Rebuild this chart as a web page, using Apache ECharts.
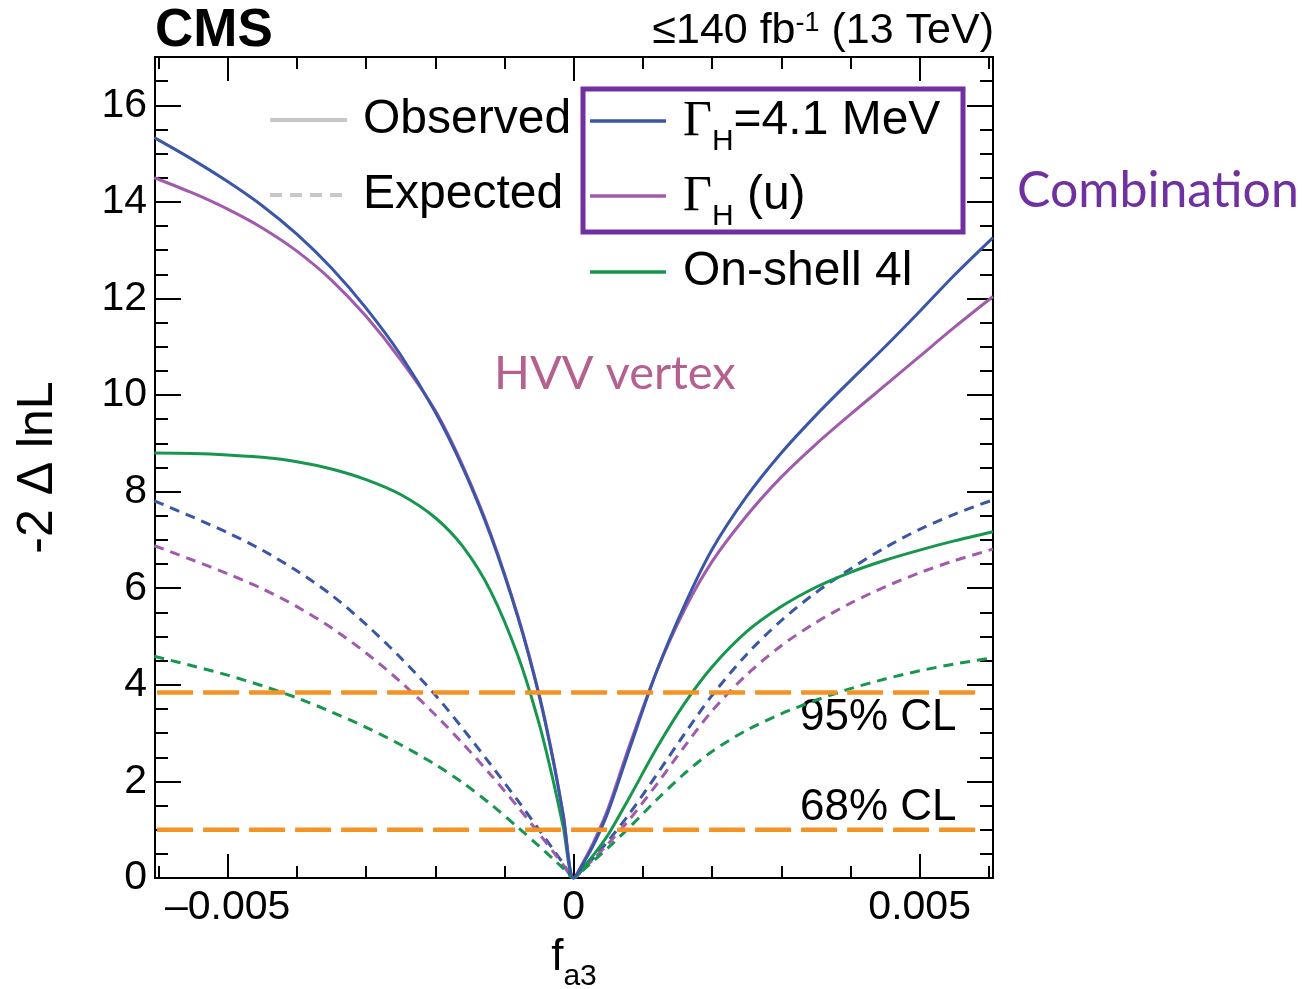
<!DOCTYPE html>
<html>
<head>
<meta charset="utf-8">
<script src="https://cdn.jsdelivr.net/npm/echarts@6/dist/echarts.min.js"></script>
<style>
  html, body { margin: 0; padding: 0; background: #ffffff; }
  #chart { width: 1314px; height: 989px; }
</style>
</head>
<body>
<div id="chart"></div>
<script>
// f_a3 scan points (shared by all curves)
const fGrid = [-0.00606, -0.0055, -0.005, -0.0045, -0.004, -0.0035, -0.003, -0.0025, -0.002, -0.0016,
  -0.0012, -0.0008, -0.0005, -0.0003, -0.00015, 0, 0.00015, 0.0003, 0.0005, 0.0008,
  0.0012, 0.0016, 0.002, 0.0025, 0.003, 0.0035, 0.004, 0.0045, 0.005, 0.0055, 0.00606];

// Observed -2 Delta lnL
const obsWidth41 = [15.33, 14.87, 14.42, 13.92, 13.33, 12.63, 11.80, 10.83, 9.65, 8.49,
  7.09, 5.37, 3.78, 2.46, 1.29, 0, 0.33, 0.72, 1.38, 2.64,
  4.28, 5.64, 6.80, 7.90, 8.80, 9.58, 10.30, 11.00, 11.73, 12.48, 13.26];
const obsWidthFree = [14.50, 14.18, 13.85, 13.46, 12.98, 12.38, 11.63, 10.73, 9.68, 8.53,
  7.13, 5.40, 3.81, 2.49, 1.31, 0, 0.36, 0.78, 1.45, 2.72,
  4.28, 5.55, 6.55, 7.50, 8.30, 8.98, 9.60, 10.20, 10.80, 11.40, 12.04];
const obsOnShell = [8.80, 8.79, 8.76, 8.71, 8.62, 8.47, 8.25, 7.94, 7.46, 6.86,
  5.94, 4.58, 3.20, 2.04, 1.05, 0, 0.24, 0.50, 0.90, 1.65,
  2.69, 3.61, 4.37, 5.10, 5.62, 6.02, 6.33, 6.58, 6.79, 6.98, 7.17];

// Expected -2 Delta lnL
const expWidth41 = [7.81, 7.47, 7.15, 6.79, 6.36, 5.86, 5.25, 4.56, 3.79, 3.09,
  2.35, 1.59, 1.00, 0.60, 0.30, 0, 0.21, 0.44, 0.77, 1.32,
  2.14, 2.98, 3.78, 4.63, 5.33, 5.91, 6.40, 6.84, 7.22, 7.53, 7.83];
const expWidthFree = [6.88, 6.58, 6.30, 5.99, 5.62, 5.18, 4.66, 4.06, 3.38, 2.78,
  2.14, 1.46, 0.92, 0.55, 0.27, 0, 0.20, 0.41, 0.71, 1.20,
  1.94, 2.72, 3.46, 4.21, 4.81, 5.29, 5.69, 6.03, 6.32, 6.57, 6.81];
const expOnShell = [4.59, 4.39, 4.20, 3.98, 3.73, 3.44, 3.12, 2.76, 2.35, 1.97,
  1.53, 1.04, 0.66, 0.40, 0.20, 0, 0.18, 0.37, 0.63, 1.04,
  1.62, 2.16, 2.62, 3.06, 3.40, 3.68, 3.92, 4.12, 4.29, 4.43, 4.56];

// Confidence-level thresholds and the span of their reference lines
const clLevels = [1.0, 3.84];
const clSpan = [-0.00602, 0.00593];

// Axis ticks and labels
const xMajorTicks = [-0.005, 0, 0.005];
const xTickLabels = ['\u20130.005', '0', '0.005'];
const xMinorTicks = [-0.006, -0.004, -0.003, -0.002, -0.001, 0.001, 0.002, 0.003, 0.004, 0.006];
const yMajorTicks = [0, 2, 4, 6, 8, 10, 12, 14, 16];
const yMinorTicks = [0.5, 1, 1.5, 2.5, 3, 3.5, 4.5, 5, 5.5, 6.5, 7, 7.5, 8.5, 9, 9.5, 10.5, 11, 11.5,
  12.5, 13, 13.5, 14.5, 15, 15.5, 16.5];

const BLUE = '#3A56A6';
const PURPLE = '#A25BAC';
const GREEN = '#17964E';
const ORANGE = '#F39325';
const BOX = '#7030A0';
const HVV = '#B5608F';
const SANS = 'Liberation Sans';

const X_MIN = -0.00605, X_MAX = 0.00606, Y_MIN = 0, Y_MAX = 17;

function xAxisDef(position, ticks, len, withLabels) {
  return {
    type: 'value', position: position, min: X_MIN, max: X_MAX,
    axisLine: { show: false, onZero: false },
    splitLine: { show: false },
    axisTick: { show: true, inside: true, length: len, customValues: ticks,
      lineStyle: { color: '#000', width: 2 } },
    axisLabel: withLabels ? {
      show: true, customValues: xMajorTicks, margin: 9,
      fontFamily: SANS, fontSize: 41, color: '#000',
      formatter: function (v) {
        const i = xMajorTicks.findIndex(function (t) { return Math.abs(t - v) < 1e-9; });
        return i >= 0 ? xTickLabels[i] : '';
      }
    } : { show: false }
  };
}

function yAxisDef(position, ticks, len, withLabels) {
  return {
    type: 'value', position: position, min: Y_MIN, max: Y_MAX,
    axisLine: { show: false, onZero: false },
    splitLine: { show: false },
    axisTick: { show: true, inside: true, length: len, customValues: ticks,
      lineStyle: { color: '#000', width: 2 } },
    axisLabel: withLabels ? {
      show: true, customValues: yMajorTicks, margin: 8,
      fontFamily: SANS, fontSize: 41, color: '#000'
    } : { show: false }
  };
}

const xAxes = [
  xAxisDef('bottom', xMajorTicks, 24, true),
  xAxisDef('bottom', xMinorTicks, 12, false),
  xAxisDef('top', xMajorTicks, 24, false),
  xAxisDef('top', xMinorTicks, 12, false)
];
xAxes[0].name = '{f|f}{s|a3}';
xAxes[0].nameLocation = 'middle';
xAxes[0].nameGap = 58;
xAxes[0].nameTextStyle = {
  rich: {
    f: { fontFamily: SANS, fontSize: 44, color: '#000', lineHeight: 48, verticalAlign: 'top' },
    s: { fontFamily: SANS, fontSize: 30, color: '#000', lineHeight: 30, padding: [26, 0, 0, 0], verticalAlign: 'top' }
  }
};

const yAxes = [
  yAxisDef('left', yMajorTicks, 26, true),
  yAxisDef('left', yMinorTicks, 13, false),
  yAxisDef('right', yMajorTicks, 26, false),
  yAxisDef('right', yMinorTicks, 13, false)
];
yAxes[0].name = '-2 \u0394 lnL';
yAxes[0].nameLocation = 'middle';
yAxes[0].nameGap = 92;
yAxes[0].nameTextStyle = { fontFamily: SANS, fontSize: 50, color: '#000' };

function pairs(values) {
  return fGrid.map(function (f, i) { return [f, values[i]]; });
}

function curve(name, values, color, dashed) {
  return {
    name: name, type: 'line', data: pairs(values),
    xAxisIndex: 0, yAxisIndex: 0,
    showSymbol: false, smooth: 0.3,
    lineStyle: { color: color, width: 3, type: dashed ? [10, 7] : 'solid', cap: 'butt' },
    silent: true, z: dashed ? 2 : 3
  };
}

function clLine(level) {
  return {
    type: 'line', data: [[clSpan[0], level], [clSpan[1], level]],
    xAxisIndex: 0, yAxisIndex: 0, showSymbol: false, silent: true, z: 4,
    lineStyle: { color: ORANGE, width: 4.5, type: [36, 10], cap: 'butt' }
  };
}

function legendLine(x1, x2, y, color, dash, width) {
  return {
    type: 'line', shape: { x1: x1, y1: y, x2: x2, y2: y },
    style: { stroke: color, lineWidth: width, lineDash: dash || null }
  };
}

function legendText(x, y, rich, text) {
  return {
    type: 'text', x: x, y: y,
    style: { text: text, rich: rich, align: 'left', verticalAlign: 'middle',
      fontFamily: SANS, fontSize: 48, fill: '#000' }
  };
}

const gammaRich = {
  g: { fontFamily: 'Liberation Serif', fontSize: 50, lineHeight: 54, verticalAlign: 'top', fill: '#000' },
  s: { fontFamily: SANS, fontSize: 30, lineHeight: 30, padding: [30, 0, 0, 0], verticalAlign: 'top', fill: '#000' },
  t: { fontFamily: SANS, fontSize: 48, lineHeight: 54, verticalAlign: 'top', fill: '#000' }
};

const graphics = [
  // CMS label and luminosity
  { type: 'text', x: 155, y: 31, style: { text: 'CMS', fontFamily: SANS, fontWeight: 'bold', fontSize: 53,
      fill: '#000', align: 'left', verticalAlign: 'middle' } },
  { type: 'text', x: 994, y: 33, style: {
      text: '{t|\u2264140 fb}{u|-1}{t| (13 TeV)}', align: 'right', verticalAlign: 'middle',
      rich: {
        t: { fontFamily: SANS, fontSize: 43, lineHeight: 46, verticalAlign: 'top', fill: '#000' },
        u: { fontFamily: SANS, fontSize: 27, lineHeight: 26, verticalAlign: 'top', fill: '#000' }
      } } },

  // Legend: line styles
  legendLine(270, 347, 120, '#C8C8C8', null, 4),
  legendText(363, 120, null, 'Observed'),
  legendLine(270, 347, 195, '#C8C8C8', [12, 8], 4),
  legendText(363, 195, null, 'Expected'),

  // Legend: width hypotheses
  { type: 'rect', shape: { x: 583, y: 89, width: 380, height: 143 },
    style: { fill: 'none', stroke: BOX, lineWidth: 5 } },
  legendLine(590, 666, 121, BLUE, null, 3.5),
  legendText(683, 124, gammaRich, '{g|\u0393}{s|H}{t|=4.1 MeV}'),
  legendLine(590, 666, 196, PURPLE, null, 3.5),
  legendText(683, 199, gammaRich, '{g|\u0393}{s|H}{t| (u)}'),
  legendLine(590, 666, 272, GREEN, null, 3.5),
  legendText(683, 272, null, 'On-shell 4l'),

  { type: 'text', x: 1017, y: 191, style: { text: 'Combination', fontFamily: 'Lato', fontSize: 50,
      fill: BOX, align: 'left', verticalAlign: 'middle' } },
  { type: 'text', x: 494, y: 374, style: { text: 'HVV vertex', fontFamily: 'Lato', fontSize: 47,
      fill: HVV, align: 'left', verticalAlign: 'middle' } },

  // Confidence level annotations
  { type: 'text', x: 800, y: 718, style: { text: '95% CL', fontFamily: SANS, fontSize: 44,
      fill: '#000', align: 'left', verticalAlign: 'middle' } },
  { type: 'text', x: 800, y: 808, style: { text: '68% CL', fontFamily: SANS, fontSize: 44,
      fill: '#000', align: 'left', verticalAlign: 'middle' } }
];

const chart = echarts.init(document.getElementById('chart'), null, { renderer: 'canvas' });
chart.setOption({
  animation: false,
  backgroundColor: '#ffffff',
  grid: { left: 155, right: 321, top: 57, bottom: 111, show: true,
    borderColor: '#000', borderWidth: 2, backgroundColor: 'transparent',
    containLabel: false, outerBoundsMode: 'none' },
  xAxis: xAxes,
  yAxis: yAxes,
  series: [
    curve('Expected, \u0393H=4.1 MeV', expWidth41, BLUE, true),
    curve('Expected, \u0393H (u)', expWidthFree, PURPLE, true),
    curve('Expected, on-shell 4l', expOnShell, GREEN, true),
    curve('Observed, on-shell 4l', obsOnShell, GREEN, false),
    curve('Observed, \u0393H (u)', obsWidthFree, PURPLE, false),
    curve('Observed, \u0393H=4.1 MeV', obsWidth41, BLUE, false),
    clLine(clLevels[0]),
    clLine(clLevels[1])
  ],
  graphic: graphics
});
</script>
</body>
</html>
